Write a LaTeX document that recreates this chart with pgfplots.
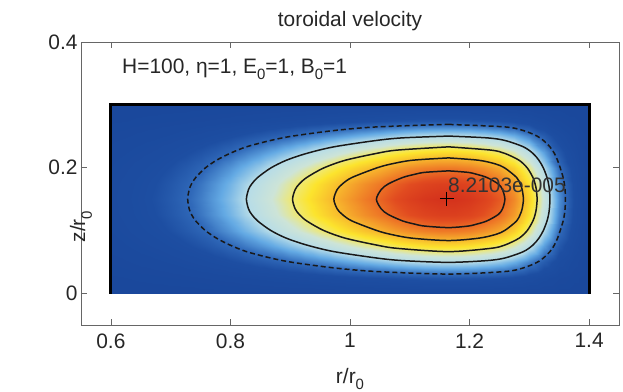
\documentclass[border=0pt]{standalone}
\usepackage{fontspec}
\setmainfont{Liberation Sans}
\usepackage{pgfplots}
\pgfplotsset{compat=1.18}
\newcommand{\sub}[1]{\raisebox{-0.32em}{\fontsize{15}{15}\selectfont #1}}
\newcommand{\fs}{\fontsize{21}{24}\selectfont}
\pgfplotsset{
  colormap={vel}{rgb255(0)=(26,72,156) rgb255(10)=(29,78,162) rgb255(17)=(48,105,185) rgb255(25)=(100,170,228) rgb255(33)=(182,220,232) rgb255(42)=(205,228,215) rgb255(50)=(240,232,110) rgb255(56)=(252,228,45) rgb255(67)=(247,180,45) rgb255(80)=(238,120,38) rgb255(90)=(225,75,32) rgb255(100)=(212,50,28)},
  contour/.style={black!90, line width=1.5pt, smooth, tension=0.5},
}
\begin{document}
\begin{tikzpicture}
\useasboundingbox (-81bp,-67bp) rectangle (542bp,325bp);
\begin{axis}[
  at={(0,0)}, anchor=south west,
  scale only axis, width=538bp, height=283bp,
  xmin=0.55, xmax=1.45, ymin=-0.05, ymax=0.4,
  xtick={0.6,0.8,1,1.2,1.4}, xticklabels={0.6,0.8,1,1.2,1.4},
  ytick={0,0.2,0.4}, yticklabels={0,0.2,0.4},
  tick align=inside, major tick length=6bp,
  tick style={black!60, line width=0.7pt},
  axis line style={black!60, line width=0.9pt},
  ticklabel style={font=\fs, text=black!85},
  xticklabel style={yshift=-5bp},
  colormap name=vel, point meta min=0, point meta max=1,
  clip=false,
]
\addplot[surf, shader=interp, mesh/cols=33, point meta=explicit] coordinates {
(0.6,0)[0] (0.625,0)[0] (0.65,0)[0] (0.675,0)[0] (0.7,0)[0] (0.725,0)[0] (0.75,0)[0] (0.775,0)[0] (0.8,0)[0] (0.825,0)[0] (0.85,0)[0] (0.875,0)[0] (0.9,0)[0] (0.925,0)[0] (0.95,0)[0] (0.975,0)[0] (1,0)[0] (1.025,0)[0] (1.05,0)[0] (1.075,0)[0] (1.1,0)[0] (1.125,0)[0] (1.15,0)[0] (1.175,0)[0] (1.2,0)[0] (1.225,0)[0] (1.25,0)[0] (1.275,0)[0] (1.3,0)[0] (1.325,0)[0] (1.35,0)[0] (1.375,0)[0] (1.4,0)[0]
(0.6,0.025)[0.006] (0.625,0.025)[0.008] (0.65,0.025)[0.011] (0.675,0.025)[0.013] (0.7,0.025)[0.016] (0.725,0.025)[0.019] (0.75,0.025)[0.024] (0.775,0.025)[0.028] (0.8,0.025)[0.033] (0.825,0.025)[0.040] (0.85,0.025)[0.045] (0.875,0.025)[0.052] (0.9,0.025)[0.059] (0.925,0.025)[0.066] (0.95,0.025)[0.073] (0.975,0.025)[0.081] (1,0.025)[0.088] (1.025,0.025)[0.095] (1.05,0.025)[0.101] (1.075,0.025)[0.108] (1.1,0.025)[0.114] (1.125,0.025)[0.118] (1.15,0.025)[0.120] (1.175,0.025)[0.120] (1.2,0.025)[0.117] (1.225,0.025)[0.112] (1.25,0.025)[0.105] (1.275,0.025)[0.092] (1.3,0.025)[0.072] (1.325,0.025)[0.049] (1.35,0.025)[0.026] (1.375,0.025)[0.012] (1.4,0.025)[0]
(0.6,0.05)[0.018] (0.625,0.05)[0.023] (0.65,0.05)[0.030] (0.675,0.05)[0.036] (0.7,0.05)[0.044] (0.725,0.05)[0.055] (0.75,0.05)[0.066] (0.775,0.05)[0.079] (0.8,0.05)[0.094] (0.825,0.05)[0.111] (0.85,0.05)[0.128] (0.875,0.05)[0.146] (0.9,0.05)[0.165] (0.925,0.05)[0.185] (0.95,0.05)[0.206] (0.975,0.05)[0.226] (1,0.05)[0.247] (1.025,0.05)[0.267] (1.05,0.05)[0.285] (1.075,0.05)[0.304] (1.1,0.05)[0.319] (1.125,0.05)[0.330] (1.15,0.05)[0.336] (1.175,0.05)[0.336] (1.2,0.05)[0.330] (1.225,0.05)[0.315] (1.25,0.05)[0.294] (1.275,0.05)[0.258] (1.3,0.05)[0.203] (1.325,0.05)[0.136] (1.35,0.05)[0.073] (1.375,0.05)[0.033] (1.4,0.05)[0]
(0.6,0.075)[0.031] (0.625,0.075)[0.040] (0.65,0.075)[0.051] (0.675,0.075)[0.062] (0.7,0.075)[0.077] (0.725,0.075)[0.094] (0.75,0.075)[0.114] (0.775,0.075)[0.136] (0.8,0.075)[0.162] (0.825,0.075)[0.191] (0.85,0.075)[0.220] (0.875,0.075)[0.251] (0.9,0.075)[0.285] (0.925,0.075)[0.318] (0.95,0.075)[0.354] (0.975,0.075)[0.390] (1,0.075)[0.425] (1.025,0.075)[0.460] (1.05,0.075)[0.490] (1.075,0.075)[0.523] (1.1,0.075)[0.549] (1.125,0.075)[0.568] (1.15,0.075)[0.578] (1.175,0.075)[0.579] (1.2,0.075)[0.567] (1.225,0.075)[0.543] (1.25,0.075)[0.506] (1.275,0.075)[0.444] (1.3,0.075)[0.350] (1.325,0.075)[0.235] (1.35,0.075)[0.126] (1.375,0.075)[0.056] (1.4,0.075)[0]
(0.6,0.1)[0.042] (0.625,0.1)[0.055] (0.65,0.1)[0.070] (0.675,0.1)[0.085] (0.7,0.1)[0.105] (0.725,0.1)[0.129] (0.75,0.1)[0.156] (0.775,0.1)[0.188] (0.8,0.1)[0.223] (0.825,0.1)[0.263] (0.85,0.1)[0.302] (0.875,0.1)[0.346] (0.9,0.1)[0.392] (0.925,0.1)[0.438] (0.95,0.1)[0.487] (0.975,0.1)[0.536] (1,0.1)[0.585] (1.025,0.1)[0.633] (1.05,0.1)[0.674] (1.075,0.1)[0.720] (1.1,0.1)[0.756] (1.125,0.1)[0.782] (1.15,0.1)[0.796] (1.175,0.1)[0.796] (1.2,0.1)[0.780] (1.225,0.1)[0.747] (1.25,0.1)[0.696] (1.275,0.1)[0.610] (1.3,0.1)[0.481] (1.325,0.1)[0.323] (1.35,0.1)[0.173] (1.375,0.1)[0.077] (1.4,0.1)[0]
(0.6,0.125)[0.050] (0.625,0.125)[0.065] (0.65,0.125)[0.083] (0.675,0.125)[0.101] (0.7,0.125)[0.125] (0.725,0.125)[0.153] (0.75,0.125)[0.186] (0.775,0.125)[0.223] (0.8,0.125)[0.264] (0.825,0.125)[0.313] (0.85,0.125)[0.359] (0.875,0.125)[0.410] (0.9,0.125)[0.465] (0.925,0.125)[0.520] (0.95,0.125)[0.578] (0.975,0.125)[0.636] (1,0.125)[0.694] (1.025,0.125)[0.751] (1.05,0.125)[0.800] (1.075,0.125)[0.854] (1.1,0.125)[0.897] (1.125,0.125)[0.928] (1.15,0.125)[0.944] (1.175,0.125)[0.945] (1.2,0.125)[0.926] (1.225,0.125)[0.886] (1.25,0.125)[0.826] (1.275,0.125)[0.724] (1.3,0.125)[0.571] (1.325,0.125)[0.384] (1.35,0.125)[0.205] (1.375,0.125)[0.092] (1.4,0.125)[0]
(0.6,0.15)[0.053] (0.625,0.15)[0.069] (0.65,0.15)[0.088] (0.675,0.15)[0.107] (0.7,0.15)[0.132] (0.725,0.15)[0.162] (0.75,0.15)[0.196] (0.775,0.15)[0.235] (0.8,0.15)[0.279] (0.825,0.15)[0.330] (0.85,0.15)[0.379] (0.875,0.15)[0.433] (0.9,0.15)[0.491] (0.925,0.15)[0.549] (0.95,0.15)[0.610] (0.975,0.15)[0.672] (1,0.15)[0.733] (1.025,0.15)[0.793] (1.05,0.15)[0.845] (1.075,0.15)[0.902] (1.1,0.15)[0.947] (1.125,0.15)[0.980] (1.15,0.15)[0.997] (1.175,0.15)[0.998] (1.2,0.15)[0.978] (1.225,0.15)[0.936] (1.25,0.15)[0.872] (1.275,0.15)[0.765] (1.3,0.15)[0.603] (1.325,0.15)[0.405] (1.35,0.15)[0.217] (1.375,0.15)[0.097] (1.4,0.15)[0]
(0.6,0.175)[0.050] (0.625,0.175)[0.065] (0.65,0.175)[0.083] (0.675,0.175)[0.101] (0.7,0.175)[0.125] (0.725,0.175)[0.153] (0.75,0.175)[0.186] (0.775,0.175)[0.223] (0.8,0.175)[0.264] (0.825,0.175)[0.313] (0.85,0.175)[0.359] (0.875,0.175)[0.410] (0.9,0.175)[0.465] (0.925,0.175)[0.520] (0.95,0.175)[0.578] (0.975,0.175)[0.636] (1,0.175)[0.694] (1.025,0.175)[0.751] (1.05,0.175)[0.800] (1.075,0.175)[0.854] (1.1,0.175)[0.897] (1.125,0.175)[0.928] (1.15,0.175)[0.944] (1.175,0.175)[0.945] (1.2,0.175)[0.926] (1.225,0.175)[0.886] (1.25,0.175)[0.826] (1.275,0.175)[0.724] (1.3,0.175)[0.571] (1.325,0.175)[0.384] (1.35,0.175)[0.205] (1.375,0.175)[0.092] (1.4,0.175)[0]
(0.6,0.2)[0.042] (0.625,0.2)[0.055] (0.65,0.2)[0.070] (0.675,0.2)[0.085] (0.7,0.2)[0.105] (0.725,0.2)[0.129] (0.75,0.2)[0.156] (0.775,0.2)[0.188] (0.8,0.2)[0.223] (0.825,0.2)[0.263] (0.85,0.2)[0.302] (0.875,0.2)[0.346] (0.9,0.2)[0.392] (0.925,0.2)[0.438] (0.95,0.2)[0.487] (0.975,0.2)[0.536] (1,0.2)[0.585] (1.025,0.2)[0.633] (1.05,0.2)[0.674] (1.075,0.2)[0.720] (1.1,0.2)[0.756] (1.125,0.2)[0.782] (1.15,0.2)[0.796] (1.175,0.2)[0.796] (1.2,0.2)[0.780] (1.225,0.2)[0.747] (1.25,0.2)[0.696] (1.275,0.2)[0.610] (1.3,0.2)[0.481] (1.325,0.2)[0.323] (1.35,0.2)[0.173] (1.375,0.2)[0.077] (1.4,0.2)[0]
(0.6,0.225)[0.031] (0.625,0.225)[0.040] (0.65,0.225)[0.051] (0.675,0.225)[0.062] (0.7,0.225)[0.077] (0.725,0.225)[0.094] (0.75,0.225)[0.114] (0.775,0.225)[0.136] (0.8,0.225)[0.162] (0.825,0.225)[0.191] (0.85,0.225)[0.220] (0.875,0.225)[0.251] (0.9,0.225)[0.285] (0.925,0.225)[0.318] (0.95,0.225)[0.354] (0.975,0.225)[0.390] (1,0.225)[0.425] (1.025,0.225)[0.460] (1.05,0.225)[0.490] (1.075,0.225)[0.523] (1.1,0.225)[0.549] (1.125,0.225)[0.568] (1.15,0.225)[0.578] (1.175,0.225)[0.579] (1.2,0.225)[0.567] (1.225,0.225)[0.543] (1.25,0.225)[0.506] (1.275,0.225)[0.444] (1.3,0.225)[0.350] (1.325,0.225)[0.235] (1.35,0.225)[0.126] (1.375,0.225)[0.056] (1.4,0.225)[0]
(0.6,0.25)[0.018] (0.625,0.25)[0.023] (0.65,0.25)[0.030] (0.675,0.25)[0.036] (0.7,0.25)[0.044] (0.725,0.25)[0.055] (0.75,0.25)[0.066] (0.775,0.25)[0.079] (0.8,0.25)[0.094] (0.825,0.25)[0.111] (0.85,0.25)[0.128] (0.875,0.25)[0.146] (0.9,0.25)[0.165] (0.925,0.25)[0.185] (0.95,0.25)[0.206] (0.975,0.25)[0.226] (1,0.25)[0.247] (1.025,0.25)[0.267] (1.05,0.25)[0.285] (1.075,0.25)[0.304] (1.1,0.25)[0.319] (1.125,0.25)[0.330] (1.15,0.25)[0.336] (1.175,0.25)[0.336] (1.2,0.25)[0.330] (1.225,0.25)[0.315] (1.25,0.25)[0.294] (1.275,0.25)[0.258] (1.3,0.25)[0.203] (1.325,0.25)[0.136] (1.35,0.25)[0.073] (1.375,0.25)[0.033] (1.4,0.25)[0]
(0.6,0.275)[0.006] (0.625,0.275)[0.008] (0.65,0.275)[0.011] (0.675,0.275)[0.013] (0.7,0.275)[0.016] (0.725,0.275)[0.019] (0.75,0.275)[0.024] (0.775,0.275)[0.028] (0.8,0.275)[0.033] (0.825,0.275)[0.040] (0.85,0.275)[0.045] (0.875,0.275)[0.052] (0.9,0.275)[0.059] (0.925,0.275)[0.066] (0.95,0.275)[0.073] (0.975,0.275)[0.081] (1,0.275)[0.088] (1.025,0.275)[0.095] (1.05,0.275)[0.101] (1.075,0.275)[0.108] (1.1,0.275)[0.114] (1.125,0.275)[0.118] (1.15,0.275)[0.120] (1.175,0.275)[0.120] (1.2,0.275)[0.117] (1.225,0.275)[0.112] (1.25,0.275)[0.105] (1.275,0.275)[0.092] (1.3,0.275)[0.072] (1.325,0.275)[0.049] (1.35,0.275)[0.026] (1.375,0.275)[0.012] (1.4,0.275)[0]
(0.6,0.3)[0] (0.625,0.3)[0] (0.65,0.3)[0] (0.675,0.3)[0] (0.7,0.3)[0] (0.725,0.3)[0] (0.75,0.3)[0] (0.775,0.3)[0] (0.8,0.3)[0] (0.825,0.3)[0] (0.85,0.3)[0] (0.875,0.3)[0] (0.9,0.3)[0] (0.925,0.3)[0] (0.95,0.3)[0] (0.975,0.3)[0] (1,0.3)[0] (1.025,0.3)[0] (1.05,0.3)[0] (1.075,0.3)[0] (1.1,0.3)[0] (1.125,0.3)[0] (1.15,0.3)[0] (1.175,0.3)[0] (1.2,0.3)[0] (1.225,0.3)[0] (1.25,0.3)[0] (1.275,0.3)[0] (1.3,0.3)[0] (1.325,0.3)[0] (1.35,0.3)[0] (1.375,0.3)[0] (1.4,0.3)[0]
};
% contour 1/6 (dashed)
\addplot[contour, dash pattern=on 5bp off 3bp] coordinates {
(1.165,0.2690)(1.2589,0.2650)(1.2901,0.2592)(1.313,0.2504)(1.3235,0.2435)(1.3345,0.2333)(1.3419,0.2229)(1.3472,0.2120)(1.3518,0.1997)(1.3566,0.1846)(1.3587,0.1743)(1.3598,0.1653)(1.3605,0.15)
(1.3598,0.1347)(1.3587,0.1257)(1.3566,0.1154)(1.3518,0.1003)(1.3472,0.0880)(1.3419,0.0771)(1.3345,0.0667)(1.3235,0.0565)(1.313,0.0496)(1.2901,0.0408)(1.2589,0.0350)(1.165,0.0310)(1.0446,0.0350)(0.973,0.0408)(0.9039,0.0496)(0.8675,0.0565)(0.8267,0.0667)(0.7993,0.0771)(0.7768,0.0880)(0.7579,0.1003)(0.742,0.1154)(0.7349,0.1257)(0.731,0.1347)(0.7285,0.15)
(0.731,0.1653)(0.7349,0.1743)(0.742,0.1846)(0.7579,0.1997)(0.7768,0.2120)(0.7993,0.2229)(0.8267,0.2333)(0.8675,0.2435)(0.9039,0.2504)(0.973,0.2592)(1.0446,0.2650)(1.165,0.2690)
};
% contour 1/3
\addplot[contour] coordinates {
(1.165,0.2504)(1.2289,0.2476)(1.2589,0.2435)(1.2901,0.2333)(1.306,0.2229)(1.316,0.2120)(1.3235,0.1997)(1.3296,0.1846)(1.3322,0.1743)(1.3336,0.1653)(1.3345,0.15)
(1.3336,0.1347)(1.3322,0.1257)(1.3296,0.1154)(1.3235,0.1003)(1.316,0.0880)(1.306,0.0771)(1.2901,0.0667)(1.2589,0.0565)(1.2289,0.0524)(1.165,0.0496)(1.0883,0.0524)(1.0446,0.0565)(0.973,0.0667)(0.9277,0.0771)(0.8936,0.0880)(0.8675,0.1003)(0.8456,0.1154)(0.8357,0.1257)(0.8302,0.1347)(0.8267,0.15)
(0.8302,0.1653)(0.8357,0.1743)(0.8456,0.1846)(0.8675,0.1997)(0.8936,0.2120)(0.9277,0.2229)(0.973,0.2333)(1.0446,0.2435)(1.0883,0.2476)(1.165,0.2504)
};
% contour 1/2
\addplot[contour] coordinates {
(1.165,0.2333)(1.2355,0.2281)(1.2589,0.2229)(1.2828,0.2120)(1.2966,0.1997)(1.306,0.1846)(1.3097,0.1743)(1.3117,0.1653)(1.313,0.15)
(1.3117,0.1347)(1.3097,0.1257)(1.306,0.1154)(1.2966,0.1003)(1.2828,0.0880)(1.2589,0.0771)(1.2355,0.0719)(1.165,0.0667)(1.0789,0.0719)(1.0446,0.0771)(0.9923,0.0880)(0.956,0.1003)(0.9277,0.1154)(0.9152,0.1257)(0.9083,0.1347)(0.9039,0.15)
(0.9083,0.1653)(0.9152,0.1743)(0.9277,0.1846)(0.956,0.1997)(0.9923,0.2120)(1.0446,0.2229)(1.0789,0.2281)(1.165,0.2333)
};
% contour 2/3
\addplot[contour] coordinates {
(1.165,0.2157)(1.215,0.2120)(1.2434,0.2061)(1.2589,0.1997)(1.2787,0.1846)(1.2847,0.1743)(1.288,0.1653)(1.2901,0.15)
(1.288,0.1347)(1.2847,0.1257)(1.2787,0.1154)(1.2589,0.1003)(1.2434,0.0939)(1.215,0.0880)(1.165,0.0843)(1.1045,0.0880)(1.0693,0.0939)(1.0446,0.1003)(1.0034,0.1154)(0.9873,0.1257)(0.9785,0.1347)(0.973,0.15)
(0.9785,0.1653)(0.9873,0.1743)(1.0034,0.1846)(1.0446,0.1997)(1.0693,0.2061)(1.1045,0.2120)(1.165,0.2157)
};
% contour 5/6
\addplot[contour] coordinates {
(1.165,0.1951)(1.1975,0.1927)(1.2119,0.1896)(1.2289,0.1846)(1.248,0.1743)(1.2551,0.1653)(1.2591,0.15)
(1.2551,0.1347)(1.248,0.1257)(1.2289,0.1154)(1.2119,0.1104)(1.1975,0.1073)(1.165,0.1049)(1.125,0.1073)(1.1083,0.1104)(1.0883,0.1154)(1.064,0.1257)(1.0522,0.1347)(1.0442,0.15)
(1.0522,0.1653)(1.064,0.1743)(1.0883,0.1846)(1.1083,0.1896)(1.125,0.1927)(1.165,0.1951)
};
% zero contour (boundary)
\addplot[black, line width=2.8bp] coordinates {(0.6,0) (0.6,0.3) (1.4,0.3) (1.4,0)};
% maximum
\addplot[only marks, mark=+, mark size=7bp, black, mark options={line width=1.1pt}] coordinates {(1.162,0.151)};
\node[anchor=base west, inner sep=0pt, font=\fs, text=black!80] at (axis cs:1.164,0.1603) {8.2103e-005};
\node[anchor=base west, inner sep=0pt, font=\fs, text=black!85] at (axis cs:0.6186,0.3503) {H=100, η=1, E\sub{0}=1, B\sub{0}=1};
\node[anchor=base, inner sep=0pt, font=\fs, text=black!85] at (rel axis cs:0.5,1) [yshift=16bp] {toroidal velocity};
\node[anchor=base, inner sep=0pt, font=\fs, text=black!85] at (rel axis cs:0.5,0) [yshift=-58bp] {r/r\sub{0}};
\node[anchor=center, inner sep=0pt, font=\fs, text=black!85, rotate=90] at (rel axis cs:0,0.56) [xshift=-60bp] {z/r\sub{0}};
\end{axis}
\end{tikzpicture}
\end{document}
